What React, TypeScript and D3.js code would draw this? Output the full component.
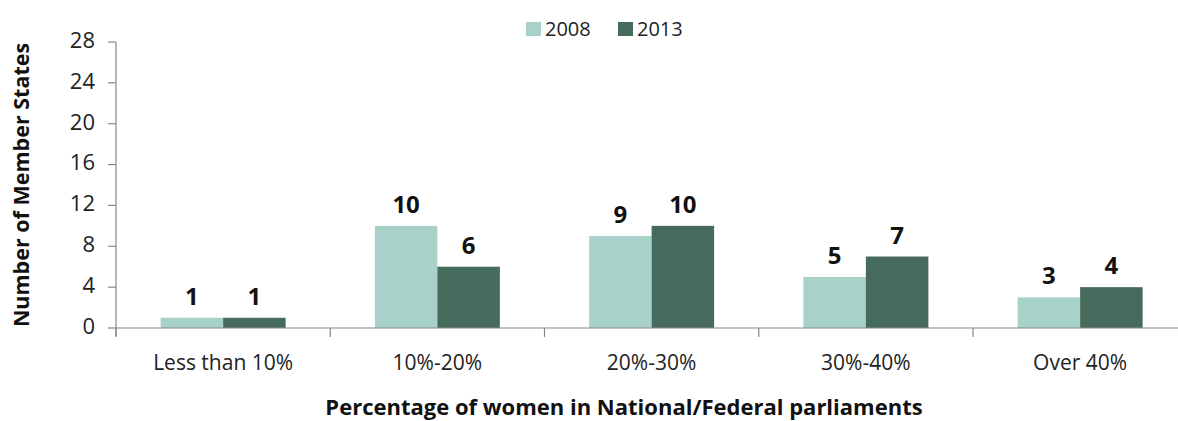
import * as d3 from "d3";

const categories = ["Less than 10%", "10%-20%", "20%-30%", "30%-40%", "Over 40%"];
const seriesNames = ["2008", "2013"];
const values2008 = [1, 10, 9, 5, 3];
const values2013 = [1, 6, 10, 7, 4];
const yTicks = [0, 4, 8, 12, 16, 20, 24, 28];
const colors = ["#a8d2c9", "#466a5b"];

export default function App() {
  const width = 1178;
  const height = 421;
  const marginLeft = 116;
  const marginTop = 42;
  const plotBottom = 328;
  const bandWidth = 214.25;
  const font = "'Open Sans', 'Noto Sans', sans-serif";

  const xAxis = d3
    .scaleBand()
    .domain(categories)
    .range([marginLeft, marginLeft + bandWidth * categories.length])
    .paddingInner(0)
    .paddingOuter(0);

  // two bars of ~62px centred in each category band
  const xInner = d3
    .scaleBand()
    .domain(seriesNames)
    .range([0, xAxis.bandwidth()])
    .paddingOuter(0.714);

  const yAxis = d3.scaleLinear().domain([0, 28]).range([plotBottom, marginTop]);

  const series = [values2008, values2013];

  return (
    <svg
      width={width}
      height={height}
      style={{ position: "absolute", left: 0, top: 0, background: "#fff" }}
    >
      {/* Bars */}
      {series.map((vals, s) =>
        vals.map((v, i) => {
          const x = (xAxis(categories[i]) ?? 0) + (xInner(seriesNames[s]) ?? 0);
          return (
            <g key={`${s}-${i}`}>
              <rect
                x={x}
                y={yAxis(v)}
                width={xInner.bandwidth()}
                height={yAxis(0) - yAxis(v)}
                fill={colors[s]}
              />
              <text
                x={x + xInner.bandwidth() / 2}
                y={yAxis(v) - 13}
                textAnchor="middle"
                fontFamily={font}
                fontWeight="bold"
                fontSize={24}
                fill="#111"
              >
                {v}
              </text>
            </g>
          );
        })
      )}

      {/* Y Axis */}
      <line x1={marginLeft} x2={marginLeft} y1={marginTop} y2={plotBottom + 8} stroke="#888" strokeWidth={1.2} />
      {yTicks.map((tick) => (
        <g key={tick}>
          <line x1={marginLeft - 8} x2={marginLeft} y1={yAxis(tick)} y2={yAxis(tick)} stroke="#888" strokeWidth={1.2} />
          <text
            x={marginLeft - 21}
            y={yAxis(tick)}
            textAnchor="end"
            dominantBaseline="middle"
            fontFamily={font}
            fontSize={22}
            fill="#222"
          >
            {tick}
          </text>
        </g>
      ))}

      {/* X Axis */}
      <line x1={marginLeft} x2={width} y1={plotBottom} y2={plotBottom} stroke="#888" strokeWidth={1.2} />
      {categories.map((c) => (
        <g key={c}>
          <line
            x1={xAxis(c) ?? 0}
            x2={xAxis(c) ?? 0}
            y1={plotBottom}
            y2={plotBottom + 9}
            stroke="#888"
            strokeWidth={1.2}
          />
          <text
            x={(xAxis(c) ?? 0) + xAxis.bandwidth() / 2}
            y={370}
            textAnchor="middle"
            fontFamily={font}
            fontSize={21}
            fill="#222"
          >
            {c}
          </text>
        </g>
      ))}

      {/* Axis titles */}
      <text
        x={624}
        y={415}
        textAnchor="middle"
        fontFamily={font}
        fontWeight="bold"
        fontSize={22}
        fill="#111"
      >
        Percentage of women in National/Federal parliaments
      </text>
      <text
        transform={`translate(29, 185) rotate(-90)`}
        textAnchor="middle"
        fontFamily={font}
        fontWeight="bold"
        fontSize={21.5}
        fill="#111"
      >
        Number of Member States
      </text>

      {/* Legend */}
      {seriesNames.map((name, i) => (
        <g key={name} transform={`translate(${526 + i * 92}, 0)`}>
          <rect x={0} y={22} width={15} height={14} fill={colors[i]} />
          <text x={19} y={36} fontFamily={font} fontSize={20} fill="#222">
            {name}
          </text>
        </g>
      ))}
    </svg>
  );
}
